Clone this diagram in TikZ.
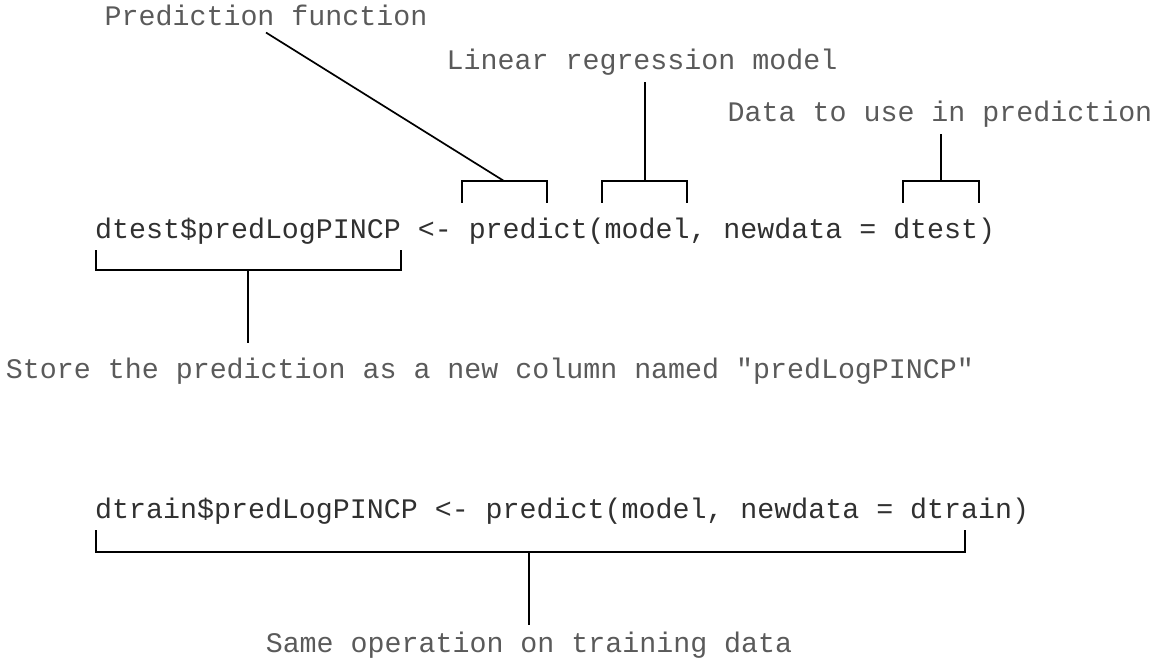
\documentclass[tikz,border=0pt]{standalone}
\usepackage{fontspec}
\newfontfamily\codefont{Liberation Mono}
\definecolor{codegray}{HTML}{303030}
\definecolor{notegray}{HTML}{5A5A5A}
\begin{document}
\begin{tikzpicture}[line cap=butt, line join=miter, x=1pt, y=-1pt,
    code/.style={anchor=base west, inner sep=0pt, text=codegray, font=\codefont\fontsize{28.3}{28.3}\selectfont},
    note/.style={anchor=base, inner sep=6pt, text=notegray, font=\codefont\fontsize{28.3}{28.3}\selectfont},
    brace/.style={line width=1.7pt, black}]

                \useasboundingbox (0,0) rectangle (1159,663);

                \node[code] (testline) at (95,238) {dtest\$predLogPINCP <- predict(model, newdata = dtest)};
                \node[code] (trainline) at (95,518) {dtrain\$predLogPINCP <- predict(model, newdata = dtrain)};

                \node[note] (predfun) at (266,26) {Prediction function};
                \node[note] (linmodel) at (642,70) {Linear regression model};
                \node[note] (usedata) at (940,122) {Data to use in prediction};
                \node[note] (storecol) at (490,378) {Store the prediction as a new column named "predLogPINCP"};
                \node[note] (sameop) at (529,652) {Same operation on training data};

                \coordinate (predtop) at (504,181);
                \coordinate (modeltop) at (645,181);
                \coordinate (datatop) at (941,181);
                \coordinate (lhsbot) at (248,270);
                \coordinate (trainbot) at (529,552);

                \draw[brace] (462,203) |- (547,181) -- (547,203);
                \draw[brace] (602,203) |- (687,181) -- (687,203);
                \draw[brace] (903,203) |- (979,181) -- (979,203);
                \draw[brace] (96,250) |- (401,270) -- (401,250);
                \draw[brace] (96,530) |- (965,552) -- (965,530);

                \draw[brace] (predfun.south) -- (predtop);
                \draw[brace] (modeltop |- linmodel.south) -- (modeltop);
                \draw[brace] (datatop |- usedata.south) -- (datatop);
                \draw[brace] (lhsbot) -- ([yshift=8pt]lhsbot |- storecol.north);
                \draw[brace] (trainbot) -- (trainbot |- sameop.north);

            \end{tikzpicture}
\end{document}
